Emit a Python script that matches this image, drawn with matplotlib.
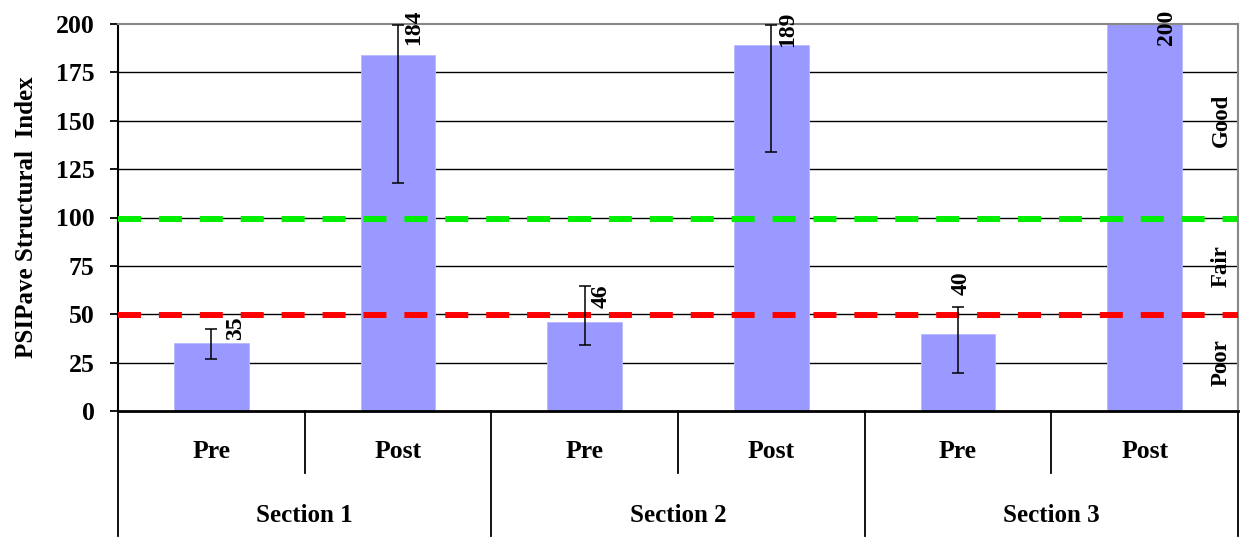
import matplotlib
matplotlib.use("Agg")
import matplotlib.pyplot as plt
import matplotlib.transforms as mtransforms
import numpy as np

# ---- data ----
sections = ["Section 1", "Section 2", "Section 3"]
phases = ["Pre", "Post", "Pre", "Post", "Pre", "Post"]
values = [35, 184, 46, 189, 40, 200]
err_low = [8.1, 66.2, 11.9, 55.0, 20.3, 0.0]
err_high = [7.4, 15.5, 18.6, 10.5, 13.7, 0.0]
fair_threshold = 99.2
poor_threshold = 49.4
zone_labels = ["Good", "Fair", "Poor"]
zone_label_y = [150, 75, 25]
yticks = [0, 25, 50, 75, 100, 125, 150, 175, 200]

# ---- style / placement ----
label_dx = [0.13, 0.086, 0.09, 0.086, 0.016, 0.118]
label_y = [36.5, 189, 53, 188, 60, 189]

plt.rcParams['font.family'] = ['Liberation Serif', 'DejaVu Serif']
plt.rcParams['font.weight'] = 'bold'

fig = plt.figure(figsize=(12.43, 5.40), dpi=100)
ax = fig.add_axes([118/1243, 1 - 411/540, (1238-118)/1243, (411-24)/540])

x = np.arange(len(values))
ax.set_xlim(-0.5, len(values) - 0.5)
ax.set_ylim(0, 200)

# gridlines
for t in yticks[1:-1]:
    ax.axhline(t, color='black', lw=1.0, zorder=1)

ax.bar(x, values, width=0.4, color='#9999FF', edgecolor='#B8B8FF', linewidth=0.6, zorder=2)

# threshold lines
ax.axhline(fair_threshold, color='#00EE00', lw=4.3, linestyle=(0, (3.85, 3.0)), zorder=3)
ax.axhline(poor_threshold, color='#FF0000', lw=4.3, linestyle=(0, (3.85, 3.0)), zorder=3)

# error bars
for i in range(len(values)):
    if err_low[i] > 0 or err_high[i] > 0:
        ax.errorbar(x[i], values[i], yerr=[[err_low[i]], [err_high[i]]], fmt='none',
                    ecolor='black', elinewidth=1.1, capsize=4.3, capthick=1.1, zorder=4)

# value labels
for i, v in enumerate(values):
    ax.text(x[i] + label_dx[i], label_y[i], str(v), rotation=90, ha='center', va='bottom',
            fontsize=17, fontweight='bold', zorder=5, clip_on=False)

# zone labels
for lab, yy in zip(zone_labels, zone_label_y):
    ax.text(5.41, yy, lab, rotation=90, ha='center', va='center', fontsize=16.5,
            fontweight='bold', zorder=5)

# spines
ax.spines['top'].set_color('#888888')
ax.spines['right'].set_color('#888888')
ax.spines['top'].set_linewidth(1.5)
ax.spines['right'].set_linewidth(1.5)
ax.spines['left'].set_color('black')
ax.spines['left'].set_linewidth(1.5)
ax.spines['bottom'].set_color('black')
ax.spines['bottom'].set_linewidth(2.0)
ax.spines['bottom'].set_zorder(6)

ax.set_yticks(yticks)
ax.set_yticklabels([str(t) for t in yticks], fontsize=18.5, fontweight='bold')
ax.tick_params(axis='y', direction='out', length=6, width=1.3, pad=11)
ax.set_xticks([])
ax.text(-(118 - 27) / 1120, 0.5, "PSIPave Structural  Index", transform=ax.transAxes,
        rotation=90, ha='center', va='center', fontsize=18, fontweight='bold')

# two-level category axis
trans = mtransforms.blended_transform_factory(ax.transData, ax.transAxes)
y_sub = -(473 - 411) / 387
y_bot = -(536 - 411) / 387
for b in np.arange(-0.5, len(values), 1.0):
    sec_boundary = (int(round(b + 0.5)) % 2 == 0)
    ax.plot([b, b], [0, y_bot if sec_boundary else y_sub], transform=trans,
            color='black', lw=1.3, clip_on=False)
for i, ph in enumerate(phases):
    ax.text(x[i], -(452 - 411) / 387, ph, transform=trans, ha='center', va='center',
            fontsize=18.5, fontweight='bold')
for j, sec in enumerate(sections):
    ax.text(2 * j + 0.5, -(515 - 411) / 387, sec, transform=trans, ha='center', va='center',
            fontsize=18, fontweight='bold')

fig.savefig("out.png", dpi=100)
